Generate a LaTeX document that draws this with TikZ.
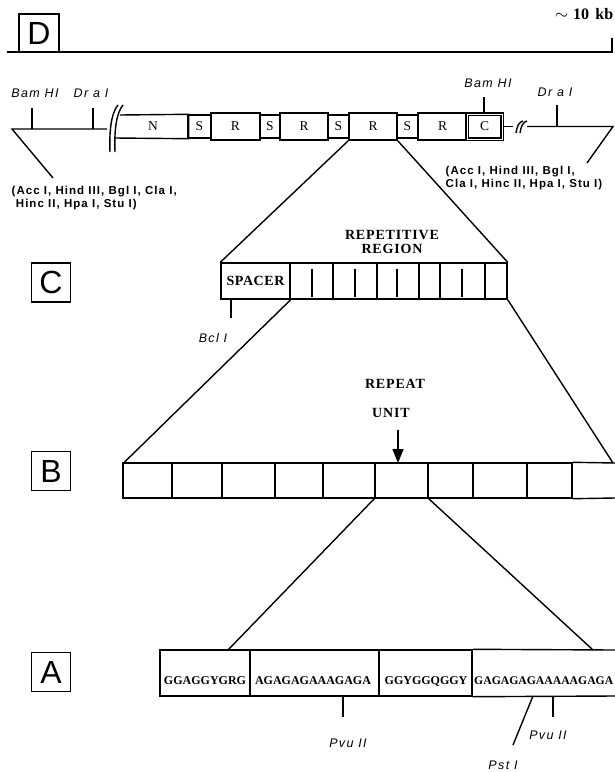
\documentclass[tikz,border=0pt]{standalone}
\usepackage{fontspec}
\setmainfont{Liberation Serif}
\setsansfont{Liberation Sans}
\usetikzlibrary{arrows.meta}
\begin{document}
\begin{tikzpicture}[x=1pt,y=-1pt,line width=1.4pt,
  lbl/.style={draw,line width=1.4pt,minimum width=39pt,minimum height=39pt,inner sep=0pt,font=\sffamily\fontsize{32}{32}\selectfont},
  enz/.style={inner sep=0pt,font=\sffamily\itshape\fontsize{12.5}{12.5}\selectfont\addfontfeature{LetterSpace=11}},
  lst/.style={inner sep=0pt,align=left,anchor=west,font=\sffamily\bfseries\fontsize{11.5}{13}\selectfont\addfontfeature{LetterSpace=9}},
  segtxt/.style={inner sep=0pt,minimum height=23pt,font=\fontsize{13.5}{13.5}\selectfont},
  seg/.style={segtxt,draw},
  tall/.style={minimum height=27pt},
  hd/.style={inner sep=0pt,align=center,font=\bfseries\fontsize{14}{14}\selectfont\addfontfeature{LetterSpace=6}},
  seq/.style={inner sep=0pt,font=\bfseries\fontsize{12}{12}\selectfont},
  cell/.style={draw,inner sep=0pt,minimum height=35pt},
  acell/.style={draw,inner sep=0pt,minimum height=46pt},
]
\useasboundingbox (0,0) rectangle (615,772);

% ---------------- D ----------------
\node[lbl,minimum width=40pt,minimum height=38pt] (Dlab) at (39,33) {D};
\coordinate (axL) at (7,52);
\coordinate (axR) at (612,52);
\coordinate (axT) at (612,38);
\draw (axL) -- (axR) -- (axT);
\node[inner sep=0pt,anchor=east,font=\bfseries\fontsize{16}{16}\selectfont] (kb) at (614,14) {$\sim$\hspace{0.3em}10\hspace{0.15em} kb};

% left flank
\node[enz] (bamL) at (35,93) {Bam HI};
\node[enz] (draL) at (91,93) {Dr a I};
\coordinate (lfA) at (12,129);
\coordinate (lfB) at (107,129);
\coordinate (bamLt) at (32,108);
\coordinate (bamLb) at (32,129);
\coordinate (draLt) at (93,108);
\coordinate (draLb) at (93,129);
\coordinate (lfD) at (53,178);
\draw (lfD) -- (lfA) -- (lfB);
\draw (bamLt) -- (bamLb);
\draw (draLt) -- (draLb);
\draw (110,152) .. controls (109,128) and (112,112) .. (118,105);
\draw (115,152) .. controls (114,128) and (117,112) .. (123,105);

% segments
\node[segtxt,minimum width=70pt] (N) at (153,126.5) {N};
\draw (120,115) -- (N.north east) -- (N.south east) -- (115,138);
\node[seg,minimum width=23pt] (S1) at (199.5,126.5) {S};
\node[seg,tall,minimum width=49pt] (R1) at (235.5,126.5) {R};
\node[seg,minimum width=20pt] (S2) at (270,126.5) {S};
\node[seg,tall,minimum width=48pt] (R2) at (304,126.5) {R};
\node[seg,minimum width=21pt] (S3) at (338.5,126.5) {S};
\node[seg,tall,minimum width=48pt] (R3) at (373,126.5) {R};
\node[seg,minimum width=21pt] (S4) at (407.5,126.5) {S};
\node[seg,tall,minimum width=49pt] (R4) at (442.5,126.5) {R};
\node[seg,minimum width=35pt,minimum height=25pt,double,double distance=0.9pt] (Cs) at (484.5,126.5) {C};

% right flank
\coordinate (rfA) at (513,126.5);
\coordinate (rfB) at (527,126.5);
\coordinate (rfC) at (613,126.5);
\coordinate (rfD) at (587,163);
\draw (Cs.east) -- (rfA);
\draw (516,133) .. controls (517,126) and (519,122) .. (523,121);
\draw (520,133) .. controls (521,126) and (523,122) .. (527,121);
\draw (rfB) -- (rfC) -- (rfD);
\node[enz] (bamR) at (488,83) {Bam HI};
\coordinate (bamRt) at (484,97);
\draw (bamRt) -- (bamRt |- Cs.north);
\node[enz] (draR) at (555,92) {Dr a I};
\coordinate (draRt) at (557,105);
\draw (draRt) -- (draRt |- rfC);

\node[lst] (lstL) at (11,198.5) {(Acc I, Hind III, Bgl I, Cla I,\\\ Hinc II, Hpa I, Stu I)};
\node[lst] (lstR) at (445,178.5) {(Acc I, Hind III, Bgl I,\\Cla I, Hinc II, Hpa I, Stu I)};

% ---------------- C ----------------
\node[lbl] (Clab) at (51,282.5) {C};
\node[draw,inner sep=0pt,minimum width=286pt,minimum height=36pt] (crow) at (364,281) {};
\node[draw,inner sep=0pt,minimum width=69pt,minimum height=36pt,font=\bfseries\fontsize{14}{14}\selectfont\addfontfeature{LetterSpace=4}] (spacer) at (255.5,281) {SPACER};
\foreach \x in {333,377,419,440,485} \draw (\x,263) -- (\x,299);
\foreach \x in {312,355,397,462} \draw (\x,269) -- (\x,297);
\node[hd] (rep) at (392,242) {REPETITIVE\\[-0.5pt]REGION};
\draw (R3.south west) -- (crow.north west);
\draw (R3.south east) -- (crow.north east);
\coordinate (bclT) at (231,299);
\coordinate (bclB) at (231,318);
\draw (bclT) -- (bclB);
\node[enz] (bcl) at (213,338) {Bcl I};

% ---------------- B ----------------
\node[lbl] (Blab) at (51,471) {B};
\node[cell,minimum width=49pt] (b1) at (147.5,480.5) {};
\node[cell,minimum width=50pt] (b2) at (197,480.5) {};
\node[cell,minimum width=53pt] (b3) at (248.5,480.5) {};
\node[cell,minimum width=48pt] (b4) at (299,480.5) {};
\node[cell,minimum width=52pt] (b5) at (349,480.5) {};
\node[cell,minimum width=53pt] (b6) at (401.5,480.5) {};
\node[cell,minimum width=45pt] (b7) at (450.5,480.5) {};
\node[cell,minimum width=54pt] (b8) at (500,480.5) {};
\node[cell,minimum width=45pt] (b9) at (549.5,480.5) {};
\coordinate (bEt) at (615,463);
\coordinate (bEb) at (615,498);
\draw (b9.north east) -- (bEt);
\draw (b9.south east) -- (bEb);
\draw (spacer.south east) -- ([xshift=2pt]b1.north west);
\coordinate (bRt) at (613,463);
\draw (crow.south east) -- (bRt);
\node[hd] (repeat) at (395,384) {REPEAT};
\node[hd] (unit) at (391,413) {UNIT};
\coordinate (arT) at (398,430);
\coordinate (arB) at (398,463);
\draw[-{Triangle[length=14pt,width=11pt]}] (arT) -- (arB);

% ---------------- A ----------------
\node[lbl] (Alab) at (51,672) {A};
\node[acell,minimum width=90pt] (a1) at (205,673) {};
\node[acell,minimum width=129pt] (a2) at (314.5,673) {};
\node[acell,minimum width=93pt] (a3) at (425.5,673) {};
\coordinate (aEt) at (615,650);
\coordinate (aEb) at (615,696);
\draw (a3.north east) -- (aEt);
\draw (a3.south east) -- (aEb);
\node[seq] (s1) at (205,681) {GGAGGYGRG};
\node[seq] (s2) at (313,681) {AGAGAGAAAGAGA};
\node[seq] (s3) at (426,681) {GGYGGQGGY};
\node[seq,anchor=west,font=\bfseries\fontsize{11.7}{12}\selectfont] (s4) at (473.5,681) {GAGAGAGAAAAAGAGA};
\coordinate (aL) at (228,650);
\coordinate (aR) at (593,650);
\draw (b6.south west) -- (aL);
\draw (b6.south east) -- (aR);

\coordinate (pv1t) at (343,696);
\coordinate (pv1b) at (343,717);
\draw (pv1t) -- (pv1b);
\node[enz] (pvu1) at (348,743) {Pvu II};
\coordinate (pstT) at (533,696);
\coordinate (pstB) at (513,745);
\draw (pstT) -- (pstB);
\node[enz] (pst) at (503,765) {Pst I};
\coordinate (pv2t) at (553,696);
\coordinate (pv2b) at (553,717);
\draw (pv2t) -- (pv2b);
\node[enz] (pvu2) at (548,735) {Pvu II};
\end{tikzpicture}
\end{document}
